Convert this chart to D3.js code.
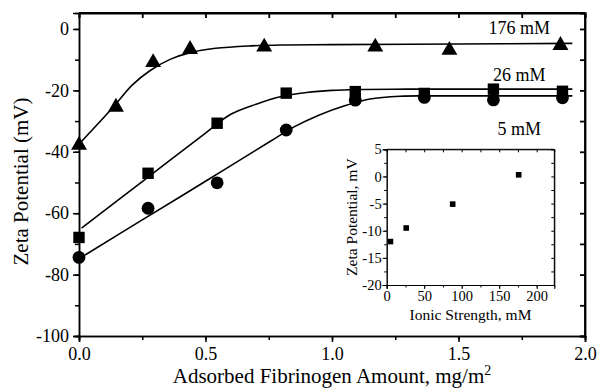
<!DOCTYPE html>
<html>
<head>
<meta charset="utf-8">
<script src="https://cdn.jsdelivr.net/npm/d3@7"></script>
<style>
  html, body { margin: 0; padding: 0; background: #fff; }
  svg { display: block; }
  text { font-family: "Liberation Serif", "Times New Roman", "DejaVu Serif", serif; fill: #000; }
</style>
</head>
<body>
<svg id="chart" width="597" height="388" font-family="Liberation Serif, Times New Roman, serif"></svg>
<script>
// ---------------- data ----------------
const xTicks = [0.0, 0.5, 1.0, 1.5, 2.0];
const yTicks = [0, -20, -40, -60, -80, -100];

// 176 mM (triangles)
const tri176X = [0, 0.146, 0.293, 0.439, 0.732, 1.171, 1.464, 1.903];
const tri176Y = [-37.5, -25.1, -10.6, -6.3, -5.5, -5.5, -6.6, -5.0];
const fit176X = [0, 0.14, 0.21, 0.28, 0.36, 0.44, 0.54, 0.68, 0.8, 1.0, 1.5, 1.95];
const fit176Y = [-37.5, -25.0, -18.3, -13.6, -9.9, -7.7, -6.3, -5.5, -5.2, -5.1, -4.9, -4.7];

// 26 mM (squares)
const sq26X = [0, 0.273, 0.546, 0.819, 1.092, 1.365, 1.638, 1.911];
const sq26Y = [-67.9, -47.0, -30.7, -20.9, -20.4, -21.0, -19.6, -20.3];
const fit26X = [0.01, 0.25, 0.5, 0.6, 0.7, 0.8, 0.9, 1.0, 1.1, 1.3, 1.95];
const fit26Y = [-64.9, -49.7, -33.9, -27.8, -24.5, -22.0, -20.7, -20.0, -19.7, -19.6, -19.6];

// 5 mM (circles)
const ci5X = [0, 0.273, 0.546, 0.819, 1.092, 1.365, 1.638, 1.911];
const ci5Y = [-74.4, -58.4, -50.1, -32.9, -23.2, -22.3, -23.1, -22.4];
const fit5X = [0.024, 0.25, 0.5, 0.75, 0.85, 0.95, 1.05, 1.15, 1.27, 1.4, 1.95];
const fit5Y = [-73.6, -62.2, -49.6, -36.9, -31.9, -28.0, -25.0, -22.8, -21.9, -21.8, -21.8];

const seriesLabels = ["176 mM", "26 mM", "5 mM"];
const labelX = [1.74, 1.74, 1.74];
const labelY = [-1.5, -16.8, -34.4];

// inset
const insetX = [5, 26, 88, 176];
const insetY = [-12.0, -9.5, -5.1, 0.3];
const insetXTicks = [0, 50, 100, 150, 200];
const insetYTicks = [5, 0, -5, -10, -15, -20];

// ---------------- drawing ----------------
const svg = d3.select("#chart");
const FONT = '"Liberation Serif", "Times New Roman", "DejaVu Serif", serif';

const M = { left: 79, right: 585, top: 13, bottom: 336 };
const x = d3.scaleLinear().domain([0, 2]).range([M.left, M.right]);
const y = d3.scaleLinear().domain([-100, 5.2]).range([M.bottom, M.top]);

function axisStyle(g, w) {
  g.attr("font-family", FONT);
  g.select(".domain").attr("stroke", "#000").attr("stroke-width", w);
  g.selectAll(".tick line").attr("stroke", "#000").attr("stroke-width", w);
}

// minor ticks
const gxMinor = svg.append("g").attr("transform", `translate(0,${M.bottom})`)
  .call(d3.axisBottom(x).tickValues(d3.range(0, 2.01, 0.25)).tickSize(4).tickFormat(""));
axisStyle(gxMinor, 1.5);
const gyMinor = svg.append("g").attr("transform", `translate(${M.left},0)`)
  .call(d3.axisLeft(y).tickValues(d3.range(-100, 1, 10)).tickSize(4).tickFormat(""));
axisStyle(gyMinor, 1.5);

// major bottom
const gx = svg.append("g").attr("transform", `translate(0,${M.bottom})`)
  .call(d3.axisBottom(x).tickValues(xTicks).tickSize(6).tickPadding(5).tickFormat(d3.format(".1f")));
axisStyle(gx, 1.5);
gx.selectAll("text").attr("font-family", FONT).attr("font-size", 18);

// major left
const gy = svg.append("g").attr("transform", `translate(${M.left},0)`)
  .call(d3.axisLeft(y).tickValues(yTicks).tickSize(6).tickPadding(4).tickFormat(d => d3.format("d")(d).replace("−", "-")));
axisStyle(gy, 1.5);
gy.selectAll("text").attr("font-family", FONT).attr("font-size", 18);

// top & right mirrored (inward ticks)
const gt = svg.append("g").attr("transform", `translate(0,${M.top})`)
  .call(d3.axisBottom(x).tickValues(d3.range(0, 2.01, 0.25)).tickSize(5).tickFormat(""));
axisStyle(gt, 1.8);
const gr = svg.append("g").attr("transform", `translate(${M.right},0)`)
  .call(d3.axisLeft(y).tickValues(d3.range(-100, 1, 10)).tickSize(5).tickFormat(""));
axisStyle(gr, 1.8);
svg.append("line").attr("x1", x(0)).attr("x2", x(2)).attr("y1", M.top).attr("y2", M.top).attr("stroke", "#000").attr("stroke-width", 1.8);
svg.append("line").attr("x1", M.right).attr("x2", M.right).attr("y1", M.top).attr("y2", M.bottom).attr("stroke", "#000").attr("stroke-width", 1.8);

// axis titles
svg.append("text").attr("x", (M.left + M.right) / 2).attr("y", 383)
  .attr("text-anchor", "middle").attr("font-size", 21)
  .html('Adsorbed Fibrinogen Amount, mg/m<tspan dy="-8" font-size="14">2</tspan>');
svg.append("text").attr("transform", `translate(28,${(M.top + M.bottom) / 2 + 7}) rotate(-90)`)
  .attr("text-anchor", "middle").attr("font-size", 21).text("Zeta Potential (mV)");

// fit lines
const line = d3.line().x(d => x(d[0])).y(d => y(d[1])).curve(d3.curveCatmullRom.alpha(0.5));
[[fit176X, fit176Y], [fit26X, fit26Y], [fit5X, fit5Y]].forEach(([fx, fy]) => {
  svg.append("path").datum(fx.map((v, i) => [v, fy[i]]))
    .attr("d", line).attr("fill", "none").attr("stroke", "#000").attr("stroke-width", 1.6);
});

// markers
const triSym = d3.symbol().type(d3.symbolTriangle).size(110);
svg.append("g").selectAll("path").data(tri176X.map((v, i) => [v, tri176Y[i]])).join("path")
  .attr("d", triSym).attr("transform", d => `translate(${x(d[0])},${y(d[1]) + 1})`).attr("fill", "#000");
svg.append("g").selectAll("rect").data(sq26X.map((v, i) => [v, sq26Y[i]])).join("rect")
  .attr("x", d => x(d[0]) - 5.7).attr("y", d => y(d[1]) - 5.7).attr("width", 11.4).attr("height", 11.4).attr("fill", "#000");
svg.append("g").selectAll("circle").data(ci5X.map((v, i) => [v, ci5Y[i]])).join("circle")
  .attr("cx", d => x(d[0])).attr("cy", d => y(d[1])).attr("r", 6.4).attr("fill", "#000");

// series labels
svg.append("g").selectAll("text").data(seriesLabels).join("text")
  .attr("x", (d, i) => x(labelX[i])).attr("y", (d, i) => y(labelY[i]))
  .attr("text-anchor", "middle").attr("font-size", 18).text(d => d);

// ---------------- inset ----------------
const I = { left: 386.7, right: 554.3, top: 149.3, bottom: 285 };
const ix = d3.scaleLinear().domain([0, 223.5]).range([I.left, I.right]);
const iy = d3.scaleLinear().domain([-20, 5]).range([I.bottom, I.top]);

svg.append("rect").attr("x", I.left).attr("y", I.top).attr("width", I.right - I.left).attr("height", I.bottom - I.top)
  .attr("fill", "#fff").attr("stroke", "none");

const ixMinor = svg.append("g").attr("transform", `translate(0,${I.bottom})`)
  .call(d3.axisBottom(ix).tickValues(d3.range(0, 223, 25)).tickSize(2.5).tickFormat(""));
axisStyle(ixMinor, 1);
const iyMinor = svg.append("g").attr("transform", `translate(${I.left},0)`)
  .call(d3.axisLeft(iy).tickValues(d3.range(-20, 5.1, 2.5)).tickSize(2.5).tickFormat(""));
axisStyle(iyMinor, 1);
const ixAx = svg.append("g").attr("transform", `translate(0,${I.bottom})`)
  .call(d3.axisBottom(ix).tickValues(insetXTicks).tickSize(4).tickPadding(2).tickFormat(d3.format("d")));
axisStyle(ixAx, 1);
ixAx.selectAll("text").attr("font-family", FONT).attr("font-size", 14.5);
const iyAx = svg.append("g").attr("transform", `translate(${I.left},0)`)
  .call(d3.axisLeft(iy).tickValues(insetYTicks).tickSize(4).tickPadding(1).tickFormat(d => String(d)));
axisStyle(iyAx, 1);
iyAx.selectAll("text").attr("font-family", FONT).attr("font-size", 14.5);
const itAx = svg.append("g").attr("transform", `translate(0,${I.top})`)
  .call(d3.axisBottom(ix).tickValues(d3.range(0, 223, 25)).tickSize(3).tickFormat(""));
axisStyle(itAx, 1);
const irAx = svg.append("g").attr("transform", `translate(${I.right},0)`)
  .call(d3.axisLeft(iy).tickValues(d3.range(-20, 5.1, 2.5)).tickSize(3).tickFormat(""));
axisStyle(irAx, 1);
svg.append("line").attr("x1", I.left).attr("x2", I.right).attr("y1", I.top).attr("y2", I.top).attr("stroke", "#000").attr("stroke-width", 1);
svg.append("line").attr("x1", I.right).attr("x2", I.right).attr("y1", I.top).attr("y2", I.bottom).attr("stroke", "#000").attr("stroke-width", 1);

svg.append("g").selectAll("rect").data(insetX.map((v, i) => [v, insetY[i]])).join("rect")
  .attr("x", d => ix(d[0]) - 2.8).attr("y", d => iy(d[1]) - 2.8).attr("width", 5.6).attr("height", 5.6).attr("fill", "#000");

svg.append("text").attr("x", (I.left + I.right) / 2).attr("y", 320)
  .attr("text-anchor", "middle").attr("font-size", 15.5).text("Ionic Strength, mM");
svg.append("text").attr("transform", `translate(357,${(I.top + I.bottom) / 2}) rotate(-90)`)
  .attr("text-anchor", "middle").attr("font-size", 15.5).text("Zeta Potential, mV");
</script>
</body>
</html>
